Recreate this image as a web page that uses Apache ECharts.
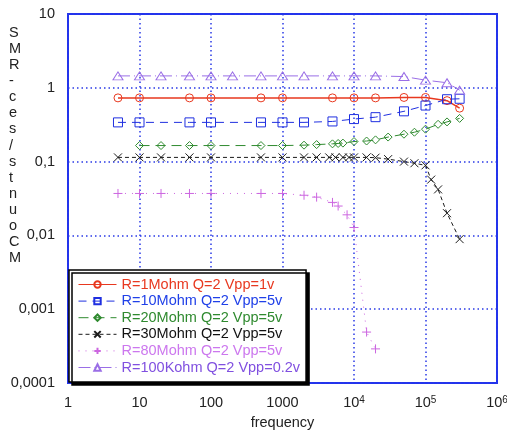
<!DOCTYPE html>
<html><head><meta charset="utf-8">
<script src="https://cdn.jsdelivr.net/npm/echarts@6/dist/echarts.min.js"></script>
<style>html,body{margin:0;padding:0;background:#fff}#c{width:507px;height:433px}</style>
</head><body><div id="c"></div>
<script>
const seriesNames = [
  'R=1Mohm Q=2 Vpp=1v',
  'R=10Mohm Q=2 Vpp=5v',
  'R=20Mohm Q=2 Vpp=5v',
  'R=30Mohm Q=2 Vpp=5v',
  'R=80Mohm Q=2 Vpp=5v',
  'R=100Kohm Q=2 Vpp=0.2v'
];
const f1 = [5,10,50,100,500,1000,5000,10000,20000,50000,100000,200000,300000];
const v1 = [0.73,0.73,0.73,0.73,0.73,0.73,0.73,0.73,0.73,0.74,0.74,0.67,0.53];
const f2 = [5,10,50,100,500,1000,2000,5000,10000,20000,50000,100000,200000,300000];
const v2 = [0.34,0.34,0.34,0.34,0.34,0.34,0.34,0.35,0.377,0.40,0.48,0.575,0.70,0.71];
const f3 = [10,20,50,100,500,1000,2000,3000,5000,6000,7000,10000,15000,20000,30000,50000,70000,100000,150000,200000,300000];
const v3 = [0.165,0.165,0.165,0.165,0.165,0.165,0.167,0.17,0.174,0.176,0.178,0.187,0.19,0.197,0.215,0.235,0.25,0.275,0.32,0.345,0.385];
const f4 = [5,10,20,50,100,500,1000,2000,3000,4500,5500,7000,8500,10000,15000,20000,30000,50000,70000,100000,120000,150000,200000,300000];
const v4 = [0.114,0.114,0.114,0.114,0.114,0.114,0.114,0.114,0.114,0.114,0.114,0.114,0.114,0.114,0.114,0.113,0.108,0.1,0.095,0.089,0.057,0.042,0.02,0.0089];
const f5 = [5,10,20,50,100,500,1000,2000,3000,5000,6000,8000,10000,15000,20000];
const v5 = [0.037,0.037,0.037,0.037,0.037,0.037,0.037,0.035,0.033,0.028,0.025,0.019,0.0128,0.00049,0.00029];
const f6 = [5,10,20,50,100,200,500,1000,2000,5000,10000,20000,50000,100000,200000,300000];
const v6 = [1.45,1.45,1.45,1.45,1.45,1.45,1.45,1.45,1.45,1.45,1.45,1.45,1.42,1.27,1.17,0.93];
const yTickLabels = ['10','1','0,1','0,01','0,001','0,0001'];
const xTickLabels = ['1','10','100','1000','10{s|4}','10{s|5}','10{s|6}'];
const yAxisTitle = 'SMR-ces/stnuoCM';
const xAxisTitle = 'frequency';

const freqs = [f1,f2,f3,f4,f5,f6];
const vals = [v1,v2,v3,v4,v5,v6];
const colors = ['#e8381f','#1f2fe0','#2f8a2f','#1a1a1a','#cc66e0','#9a6ee6'];
const textColors = ['#e8381f','#2040e8','#2f8a2f','#111111','#cc77ee','#8050e0'];
const symbols = ['circle','rect','diamond','path://M0,0L10,10M10,0L0,10','path://M5,0L5,10M0,5L10,5','triangle'];
const symSizes = [8,9,8,8,9,[10,8]];
const dashes = ['solid',[8,6],[10,6],[4,3],[1,6],[12,4,1,4]];
const widths = [1.5,1,1,1,1,1];
const FONT = 'Liberation Sans';

const series = seriesNames.map((n,i)=>({
  name:n, type:'line',
  data: freqs[i].map((f,j)=>[f, vals[i][j]]),
  symbol: symbols[i], symbolSize: symSizes[i], showAllSymbol:true,
  itemStyle:{color:'rgba(255,255,255,0)', borderColor:colors[i], borderWidth:1},
  lineStyle:{color:colors[i], width:widths[i], type:dashes[i]},
  emphasis:{disabled:true}
}));

const chart = echarts.init(document.getElementById('c'));
chart.setOption({
  animation:false,
  grid:{left:68,right:10,top:14,bottom:50,containLabel:false,outerBoundsMode:'none',
    show:true,borderColor:'#2233ee',borderWidth:2,backgroundColor:'transparent'},
  xAxis:{
    type:'log', logBase:10, min:1, max:1000000, splitNumber:6,
    name:xAxisTitle, nameLocation:'middle', nameGap:32,
    nameTextStyle:{fontFamily:FONT,fontSize:14.5,color:'#222'},
    axisLine:{show:false}, axisTick:{show:false}, minorTick:{show:false},
    splitLine:{show:true,lineStyle:{color:'#2a3ae6',width:1.5,type:[1.5,3]}},
    axisLabel:{margin:12,fontFamily:FONT,fontSize:14.5,color:'#222',
      formatter:v=>xTickLabels[Math.round(Math.log10(v))],
      rich:{s:{fontFamily:FONT,fontSize:10,color:'#222',verticalAlign:'top',lineHeight:10}}}
  },
  yAxis:{
    type:'log', logBase:10, min:0.0001, max:10, splitNumber:5,
    axisLine:{show:false}, axisTick:{show:false},
    splitLine:{show:true,lineStyle:{color:'#2a3ae6',width:1.5,type:[1.5,3]}},
    axisLabel:{margin:13,fontFamily:FONT,fontSize:14.5,color:'#222',
      formatter:v=>yTickLabels[Math.round(1-Math.log10(v))]}
  },
  legend:{
    orient:'vertical', left:69, top:270, align:'left',
    backgroundColor:'#fff', borderColor:'#000', borderWidth:1.5,
    shadowColor:'#000', shadowOffsetX:3, shadowOffsetY:3, shadowBlur:0,
    padding:[7,6,7,9], itemWidth:38, itemHeight:8, itemGap:1.6,
    lineStyle:{width:1},
    textStyle:{fontFamily:FONT,fontSize:14.5,lineHeight:15},
    data: seriesNames.map((n,i)=>({name:n,textStyle:{color:textColors[i]}}))
  },
  graphic:[{
    type:'text', left:9, top:25,
    style:{text:yAxisTitle.split('').join('\n'), fontFamily:FONT, fontSize:14.5, lineHeight:16.07, fill:'#222', align:'center'}
  }],
  series: series
});
</script></body></html>
